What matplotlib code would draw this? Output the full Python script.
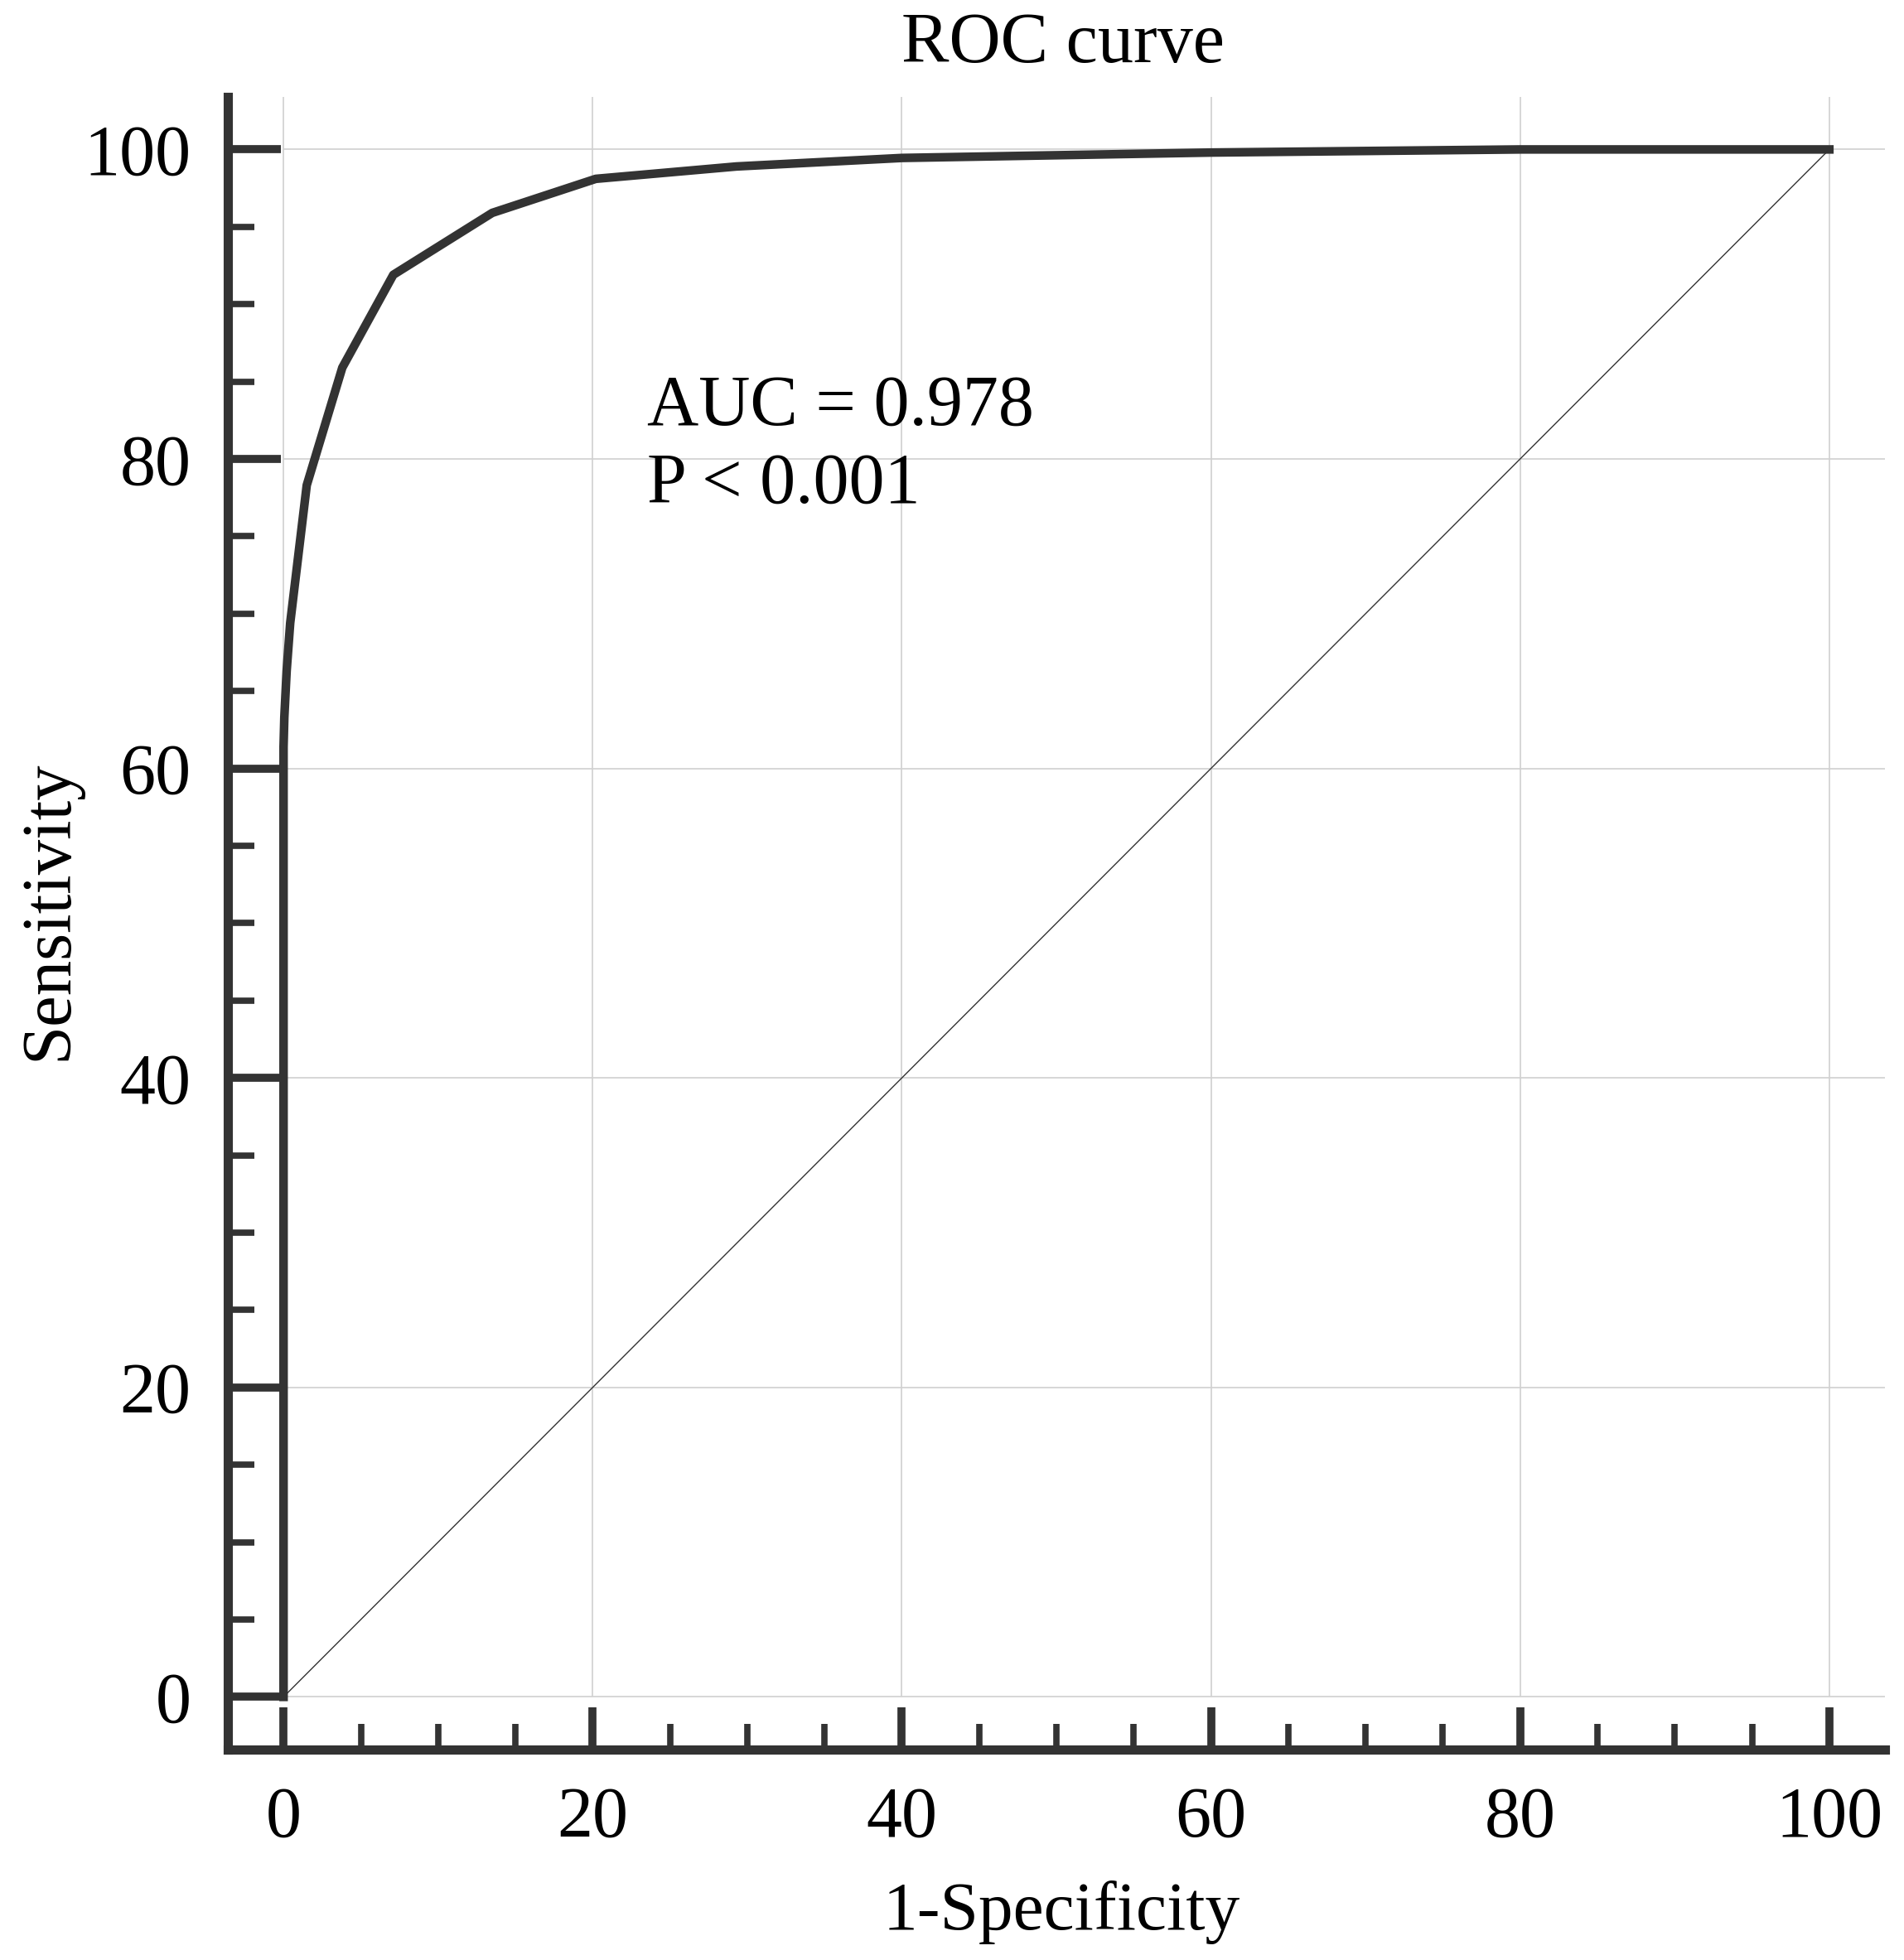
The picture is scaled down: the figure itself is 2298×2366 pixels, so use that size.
import matplotlib
matplotlib.use("Agg")
import matplotlib.pyplot as plt
from matplotlib.ticker import MultipleLocator

# ROC curve points (1-specificity, sensitivity), in %
fpr = [0, 0, 0.05, 0.2, 0.43, 1.5, 3.8, 7.1, 13.5, 20.2, 29.3, 40.0, 60.0, 80.0, 100]
tpr = [0, 61.4, 63.3, 66.3, 69.4, 78.3, 85.9, 91.9, 95.9, 98.1, 98.9, 99.45, 99.8, 100, 100]

# reference (chance) line
ref_line = [0, 100]

major_ticks = [0, 20, 40, 60, 80, 100]
tick_labels = ["0", "20", "40", "60", "80", "100"]

auc_text = "AUC = 0.978"
p_text = "P < 0.001"

dark = "#333333"
plt.rcParams["font.family"] = ["Liberation Serif", "DejaVu Serif"]

fig = plt.figure(figsize=(22.98, 23.66), dpi=100)
ax = fig.add_axes([0.1197, 0.1074, 0.8703, 0.8432])

xlim = (-3.6, 103.6)
ylim = (-3.4, 103.4)
ax.set_xlim(xlim)
ax.set_ylim(ylim)

# grid only over the data area (starts at 0)
ax.hlines(major_ticks, 0, xlim[1], colors="#d0d0d0", linewidth=1.2, zorder=1)
ax.vlines(major_ticks, 0, ylim[1], colors="#d0d0d0", linewidth=1.2, zorder=1)

ax.plot(ref_line, ref_line, color=dark, linewidth=1.0, zorder=2)
ax.plot(fpr, tpr, color=dark, linewidth=7.5, zorder=3, clip_on=False)

ax.text(23.5, 82.2, auc_text, fontsize=62, va="baseline", ha="left")
ax.text(23.5, 77.2, p_text, fontsize=62, va="baseline", ha="left")

for side in ["top", "right"]:
    ax.spines[side].set_visible(False)
for side in ["left", "bottom"]:
    ax.spines[side].set_linewidth(8)
    ax.spines[side].set_color(dark)
    ax.spines[side].set_capstyle("projecting")

ax.set_xticks(major_ticks)
ax.set_xticklabels(tick_labels)
ax.set_yticks(major_ticks)
ax.set_yticklabels(tick_labels)
ax.xaxis.set_minor_locator(MultipleLocator(5))
ax.yaxis.set_minor_locator(MultipleLocator(5))

ax.tick_params(axis="both", which="both", direction="in", color=dark,
               labelsize=62, labelcolor="black", pad=32)
ax.tick_params(axis="y", which="major", length=46, width=7)
ax.tick_params(axis="y", which="minor", length=23, width=5.5)
ax.tick_params(axis="x", which="major", length=37, width=7)
ax.tick_params(axis="x", which="minor", length=22, width=5.5)

ax.set_title("ROC curve", fontsize=62, pad=30, x=0.504)
ax.set_xlabel("1-Specificity", fontsize=60, va="baseline")
ax.xaxis.set_label_coords(0.503, -0.109)
ax.set_ylabel("Sensitivity", fontsize=61, va="center", ha="center")
ax.yaxis.set_label_coords(-0.1075, 0.508)

fig.savefig("out.png", dpi=100, facecolor="white")
